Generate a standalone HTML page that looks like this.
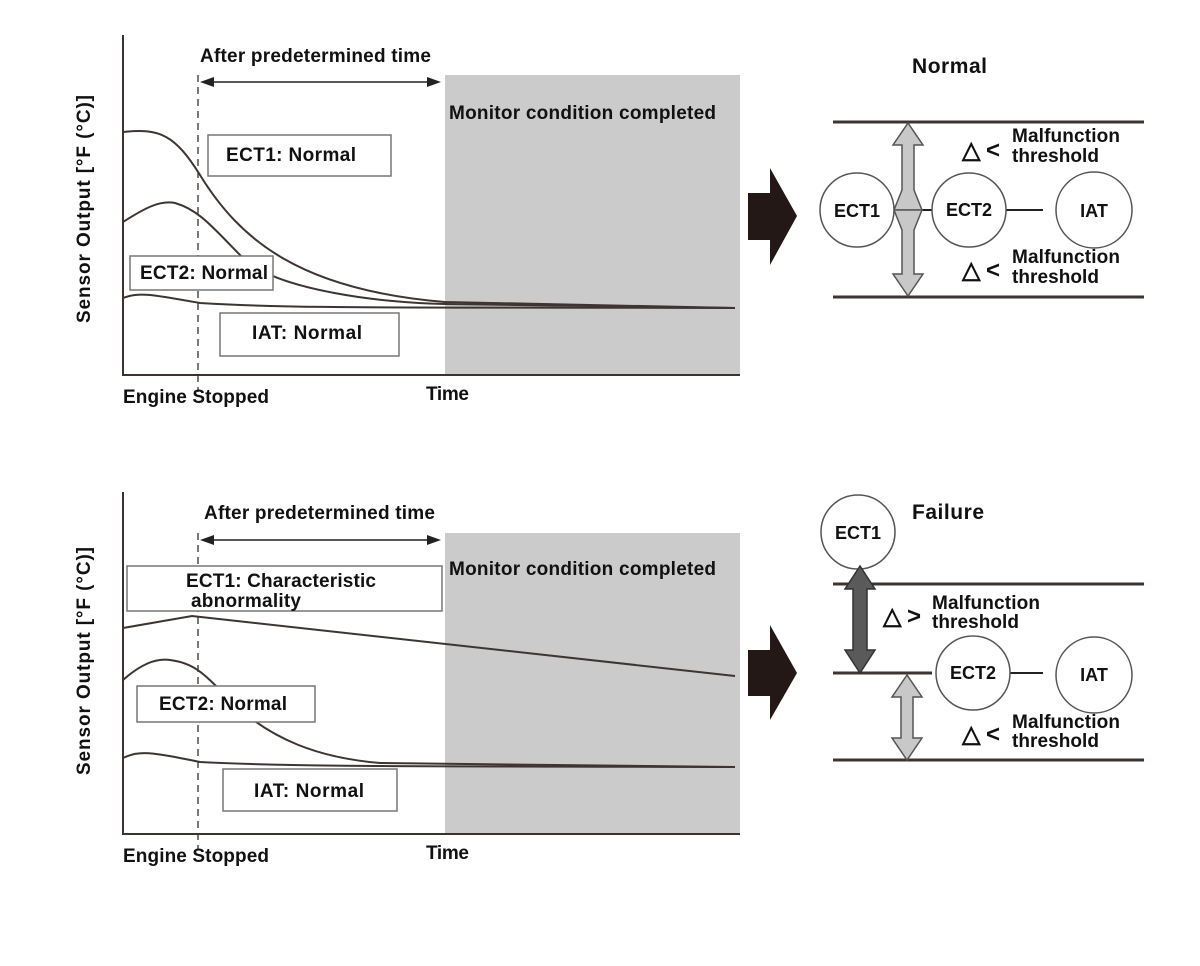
<!DOCTYPE html>
<html><head><style>body{margin:0;background:#fff}svg{display:block}text{font-family:"Liberation Sans",Arial,sans-serif;font-weight:bold;fill:#111}</style></head><body>
<svg width="1200" height="966" viewBox="0 0 1200 966" xmlns="http://www.w3.org/2000/svg">
<!-- TOP CHART -->
<rect x="445" y="75" width="295" height="300" fill="#cbcbcb"/>
<path d="M123,35 V375 H740" fill="none" stroke="#3a3330" stroke-width="2"/>
<line x1="198" y1="75" x2="198" y2="392" stroke="#333" stroke-width="1.3" stroke-dasharray="7,5"/>
<line x1="205" y1="82" x2="435" y2="82" stroke="#222" stroke-width="1.5"/>
<path d="M200,82 l14,-5 v10 z M441,82 l-14,-5 v10 z" fill="#222"/>
<text x="200" y="62" font-size="19" textLength="231">After predetermined time</text>
<text x="449" y="119" font-size="19" textLength="267">Monitor condition completed</text>
<g fill="none" stroke="#3e3532" stroke-width="2">
<path d="M123,132 C160,128 175,135 200,175 C240,240 300,290 445,302 L735,308"/>
<path d="M123,222 C145,208 160,200 175,203 C200,210 215,230 245,260 C280,290 380,303 445,304 L735,308"/>
<path d="M123,298 C140,292 150,294 200,303 C300,309 400,307 735,308"/>
</g>
<rect x="208" y="135" width="183" height="41" fill="#fff" stroke="#777" stroke-width="1.5"/>
<text x="226" y="161" font-size="19" textLength="130">ECT1: Normal</text>
<rect x="130" y="256" width="143" height="34" fill="#fff" stroke="#777" stroke-width="1.5"/>
<text x="140" y="279" font-size="19" textLength="128">ECT2: Normal</text>
<rect x="220" y="313" width="179" height="43" fill="#fff" stroke="#777" stroke-width="1.5"/>
<text x="252" y="339" font-size="19" textLength="110">IAT: Normal</text>
<text x="123" y="403" font-size="19" textLength="146">Engine Stopped</text>
<text x="426" y="400" font-size="19" textLength="43">Time</text>
<text transform="translate(90,323) rotate(-90)" font-size="19" textLength="228">Sensor Output [°F (°C)]</text>

<!-- BOTTOM CHART -->
<rect x="445" y="533" width="295" height="301" fill="#cbcbcb"/>
<path d="M123,492 V834 H740" fill="none" stroke="#3a3330" stroke-width="2"/>
<line x1="198" y1="533" x2="198" y2="850" stroke="#333" stroke-width="1.3" stroke-dasharray="7,5"/>
<line x1="205" y1="540" x2="435" y2="540" stroke="#222" stroke-width="1.5"/>
<path d="M200,540 l14,-5 v10 z M441,540 l-14,-5 v10 z" fill="#222"/>
<text x="204" y="519" font-size="19" textLength="231">After predetermined time</text>
<text x="449" y="575" font-size="19" textLength="267">Monitor condition completed</text>
<g fill="none" stroke="#3e3532" stroke-width="2">
<path d="M123,628 L192,616 L735,676"/>
<path d="M123,680 C140,665 155,658 170,660 C195,663 205,675 230,700 C270,740 320,758 380,763 L735,767"/>
<path d="M123,758 C140,750 150,752 200,762 C300,767 400,766 735,767"/>
</g>
<rect x="127" y="566" width="315" height="45" fill="#fff" stroke="#777" stroke-width="1.5"/>
<text x="186" y="587" font-size="19" textLength="190">ECT1: Characteristic</text>
<text x="191" y="607" font-size="19" textLength="110">abnormality</text>
<rect x="137" y="686" width="178" height="36" fill="#fff" stroke="#777" stroke-width="1.5"/>
<text x="159" y="710" font-size="19" textLength="128">ECT2: Normal</text>
<rect x="223" y="769" width="174" height="42" fill="#fff" stroke="#777" stroke-width="1.5"/>
<text x="254" y="797" font-size="19" textLength="110">IAT: Normal</text>
<text x="123" y="862" font-size="19" textLength="146">Engine Stopped</text>
<text x="426" y="859" font-size="19" textLength="43">Time</text>
<text transform="translate(90,775) rotate(-90)" font-size="19" textLength="228">Sensor Output [°F (°C)]</text>

<!-- big arrows -->
<path d="M748,193 H770 V168 L797,216 L770,265 V240 H748 Z" fill="#231815"/>
<path d="M748,650 H770 V625 L797,673 L770,720 V696 H748 Z" fill="#231815"/>

<!-- RIGHT TOP -->
<text x="912" y="73" font-size="21" textLength="75">Normal</text>
<line x1="833" y1="122" x2="1144" y2="122" stroke="#3e3532" stroke-width="3"/>
<line x1="833" y1="297" x2="1144" y2="297" stroke="#3e3532" stroke-width="3"/>
<line x1="894" y1="210" x2="932" y2="210" stroke="#222" stroke-width="2"/>
<line x1="1006" y1="210" x2="1043" y2="210" stroke="#222" stroke-width="2"/>
<path d="M908,123 L893,145 H902 V190 L894,210 L922,210 L914,190 V145 H923 Z" fill="#c8c8c8" stroke="#555" stroke-width="1.5"/>
<path d="M908,296 L893,274 H902 V230 L894,210 L922,210 L914,230 V274 H923 Z" fill="#c8c8c8" stroke="#555" stroke-width="1.5"/>
<circle cx="857" cy="210" r="37" fill="#fff" stroke="#555" stroke-width="1.5"/>
<circle cx="969" cy="210" r="37" fill="#fff" stroke="#555" stroke-width="1.5"/>
<circle cx="1094" cy="210" r="38" fill="#fff" stroke="#555" stroke-width="1.5"/>
<text x="857" y="217" font-size="18" text-anchor="middle">ECT1</text>
<text x="969" y="216" font-size="18" text-anchor="middle">ECT2</text>
<text x="1094" y="217" font-size="18" text-anchor="middle">IAT</text>
<text x="962" y="158" font-size="24" font-weight="normal" textLength="38">△&lt;</text>
<text x="1012" y="142" font-size="19" textLength="108">Malfunction</text>
<text x="1012" y="162" font-size="19" textLength="87">threshold</text>
<text x="962" y="278" font-size="24" font-weight="normal" textLength="38">△&lt;</text>
<text x="1012" y="263" font-size="19" textLength="108">Malfunction</text>
<text x="1012" y="283" font-size="19" textLength="87">threshold</text>

<!-- RIGHT BOTTOM -->
<text x="912" y="519" font-size="21" textLength="72">Failure</text>
<line x1="833" y1="584" x2="1144" y2="584" stroke="#3e3532" stroke-width="3"/>
<line x1="833" y1="673" x2="932" y2="673" stroke="#3e3532" stroke-width="3"/>
<line x1="1010" y1="673" x2="1043" y2="673" stroke="#222" stroke-width="2"/>
<line x1="833" y1="760" x2="1144" y2="760" stroke="#3e3532" stroke-width="3"/>
<circle cx="858" cy="532" r="37" fill="#fff" stroke="#555" stroke-width="1.5"/>
<text x="858" y="539" font-size="18" text-anchor="middle">ECT1</text>
<path d="M860,566 L845,589 H853 V650 H845 L860,673 L875,650 H867 V589 H875 Z" fill="#5a5a5a" stroke="#333" stroke-width="1.5"/>
<path d="M907,675 L892,697 H901 V738 H892 L907,760 L922,738 H913 V697 H922 Z" fill="#c8c8c8" stroke="#555" stroke-width="1.5"/>
<circle cx="973" cy="673" r="37" fill="#fff" stroke="#555" stroke-width="1.5"/>
<circle cx="1094" cy="675" r="38" fill="#fff" stroke="#555" stroke-width="1.5"/>
<text x="973" y="679" font-size="18" text-anchor="middle">ECT2</text>
<text x="1094" y="681" font-size="18" text-anchor="middle">IAT</text>
<text x="883" y="624" font-size="24" font-weight="normal" textLength="38">△&gt;</text>
<text x="932" y="609" font-size="19" textLength="108">Malfunction</text>
<text x="932" y="628" font-size="19" textLength="87">threshold</text>
<text x="962" y="742" font-size="24" font-weight="normal" textLength="38">△&lt;</text>
<text x="1012" y="728" font-size="19" textLength="108">Malfunction</text>
<text x="1012" y="747" font-size="19" textLength="87">threshold</text>
</svg>
</body></html>
